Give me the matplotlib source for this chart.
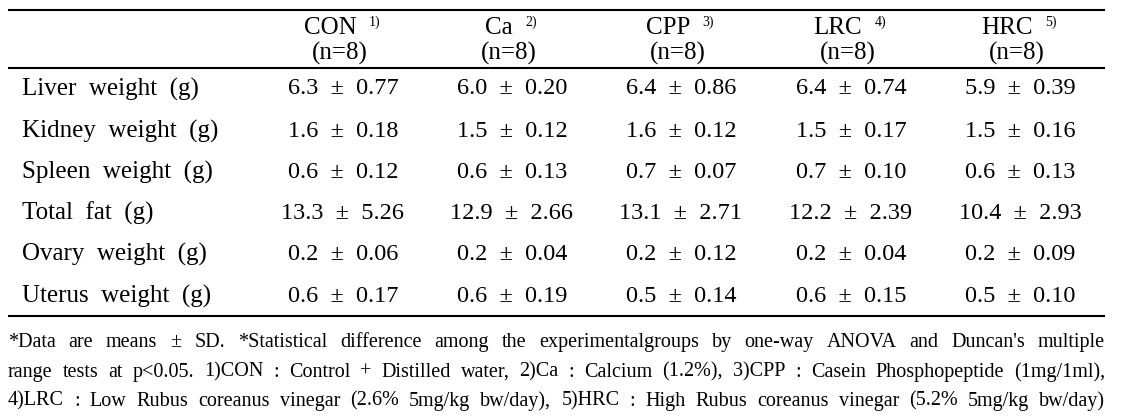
import matplotlib.pyplot as plt

plt.rcParams['font.family'] = ['Liberation Serif', 'DejaVu Serif']

# table content
groups = ['CON', 'Ca', 'CPP', 'LRC', 'HRC']
group_notes = ['1)', '2)', '3)', '4)', '5)']
group_n = ['(n=8)', '(n=8)', '(n=8)', '(n=8)', '(n=8)']
row_labels = ['Liver  weight  (g)', 'Kidney  weight  (g)', 'Spleen  weight  (g)',
              'Total  fat  (g)', 'Ovary  weight  (g)', 'Uterus  weight  (g)']
means = [
    [6.3, 6.0, 6.4, 6.4, 5.9],
    [1.6, 1.5, 1.6, 1.5, 1.5],
    [0.6, 0.6, 0.7, 0.7, 0.6],
    [13.3, 12.9, 13.1, 12.2, 10.4],
    [0.2, 0.2, 0.2, 0.2, 0.2],
    [0.6, 0.6, 0.5, 0.6, 0.5],
]
sds = [
    [0.77, 0.20, 0.86, 0.74, 0.39],
    [0.18, 0.12, 0.12, 0.17, 0.16],
    [0.12, 0.13, 0.07, 0.10, 0.13],
    [5.26, 2.66, 2.71, 2.39, 2.93],
    [0.06, 0.04, 0.12, 0.04, 0.09],
    [0.17, 0.19, 0.14, 0.15, 0.10],
]
footnotes = [
    "*Data are means  \u00b1 SD. *Statistical difference among the experimentalgroups by one-way ANOVA and Duncan's multiple",
    "range tests at p<0.05. 1)CON : Control + Distilled water, 2)Ca : Calcium (1.2%),  3)CPP : Casein Phosphopeptide (1mg/1ml),",
    "4)LRC : Low Rubus coreanus vinegar (2.6% 5mg/kg bw/day), 5)HRC : High Rubus coreanus vinegar (5.2% 5mg/kg bw/day)",
]

W, H = 1122, 419
fig = plt.figure(figsize=(W / 100, H / 100), dpi=100)
ax = fig.add_axes([0, 0, 1, 1])
ax.set_xlim(0, W)
ax.set_ylim(H, 0)
ax.axis('off')

left, right = 8, 1105
col_x = [343, 512, 681, 851, 1020]
row_y = [89, 131, 172, 213, 254, 296]
fs = 17.5

# rules
for y in [10, 68, 316]:
    ax.plot([left, right], [y, y], color='black', lw=1.5, solid_capstyle='butt')

# header
for cx, g, note, n in zip(col_x, groups, group_notes, group_n):
    t = ax.text(cx - 13, 28, g, ha='center', va='center', fontsize=18)
    ax.annotate(note, xy=(1, 1), xycoords=t, xytext=(9, 1), textcoords='offset points',
                ha='left', va='top', fontsize=10)
    ax.text(cx - 3, 53, n, ha='center', va='center', fontsize=18)

# body
for i, (lab, y) in enumerate(zip(row_labels, row_y)):
    ax.text(22, y, lab, ha='left', va='center', fontsize=18)
    for j, cx in enumerate(col_x):
        s = f"{means[i][j]:.1f}  \u00b1  {sds[i][j]:.2f}"
        ax.text(cx, y, s, ha='center', va='center', fontsize=fs)

# footnotes, spread over the table width
fig.canvas.draw()
renderer = fig.canvas.get_renderer()
foot_y = [342, 372, 401]
ffs = 14.5
for line, y in zip(footnotes, foot_y):
    words = line.split()
    arts = [ax.text(0, y, w, ha='left', va='center', fontsize=ffs) for w in words]
    widths = [a.get_window_extent(renderer).width for a in arts]
    gap = (right - left - sum(widths)) / (len(words) - 1)
    x = left
    for a, w in zip(arts, widths):
        a.set_x(x)
        x += w + gap

fig.savefig('out.png', dpi=100)
